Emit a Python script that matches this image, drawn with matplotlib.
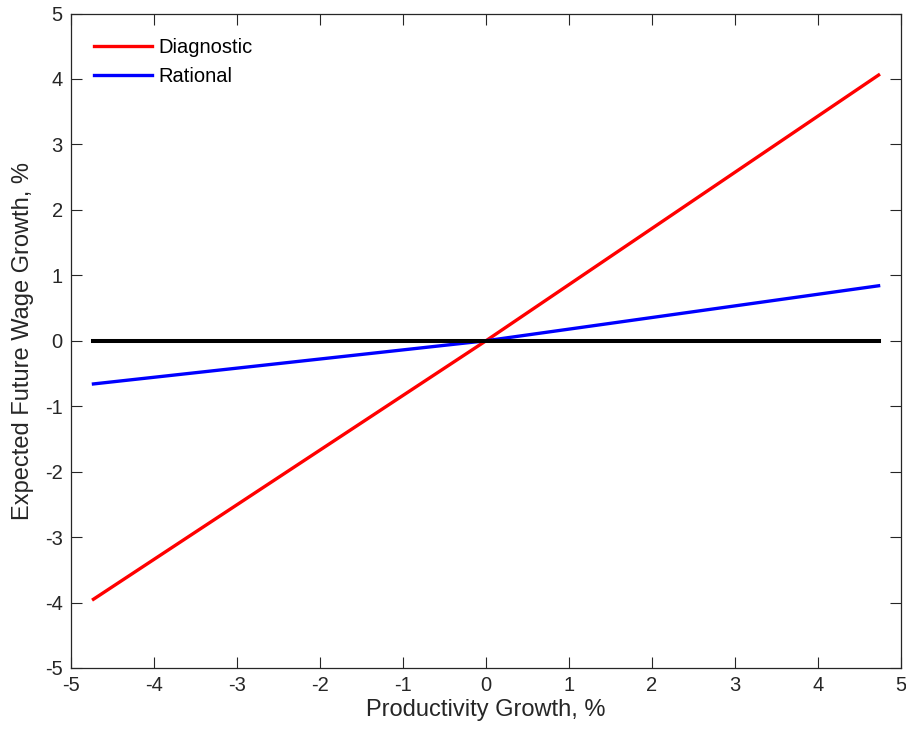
import numpy as np
import matplotlib.pyplot as plt

plt.rcParams['font.family'] = ['Liberation Sans', 'DejaVu Sans']

# productivity growth grid (end points and the kink at zero)
x_vals = [-4.73, 0.0, 4.73]
diagnostic = [-3.95, 0.0, 4.06]
rational = [-0.66, 0.0, 0.84]
zero_line = [0.0, 0.0, 0.0]

ticks = [-5, -4, -3, -2, -1, 0, 1, 2, 3, 4, 5]
tick_labels = ['-5', '-4', '-3', '-2', '-1', '0', '1', '2', '3', '4', '5']

fig = plt.figure(figsize=(9.06, 7.35), dpi=100)
ax = fig.add_axes([0.0784, 0.0912, 0.9161, 0.8904])

ax.plot(x_vals, diagnostic, color='#ff0000', lw=2.4, label='Diagnostic')
ax.plot(x_vals, rational, color='#0000ff', lw=2.4, label='Rational')
ax.plot(x_vals, zero_line, color='black', lw=2.9)

ax.set_xlim(-5, 5)
ax.set_ylim(-5, 5)
ax.set_xticks(ticks)
ax.set_xticklabels(tick_labels)
ax.set_yticks(ticks)
ax.set_yticklabels(tick_labels)

ax.tick_params(direction='in', length=8, width=0.8, colors='#262626',
               labelsize=14.5, top=True, right=True, pad=6)
for s in ax.spines.values():
    s.set_color('#262626')
    s.set_linewidth(0.9)

ax.set_xlabel('Productivity Growth, %', fontsize=17, color='#262626', labelpad=3)
ax.set_ylabel('Expected Future Wage Growth, %', fontsize=17, color='#262626', labelpad=8)

leg = ax.legend(loc='upper left', frameon=False, fontsize=14.5, handlelength=2.85,
                handletextpad=0.35, labelspacing=0.5, borderpad=0,
                borderaxespad=0, bbox_to_anchor=(0.028, 0.962))

plt.savefig('out.png', dpi=100)
